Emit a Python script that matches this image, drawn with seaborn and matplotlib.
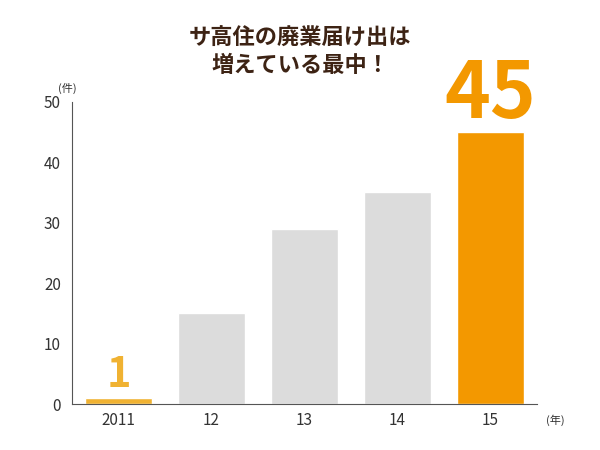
import matplotlib
matplotlib.use("Agg")
import matplotlib.pyplot as plt
import seaborn as sns
import pandas as pd

years = ["2011", "12", "13", "14", "15"]
counts = [1, 15, 29, 35, 45]
colors = ["#F0B232", "#DCDCDC", "#DCDCDC", "#DCDCDC", "#F39800"]

sns.set_style("white")
plt.rcParams['font.family'] = ['Noto Sans CJK JP', 'DejaVu Sans']

fig = plt.figure(figsize=(6, 4.5), dpi=100)
ax = fig.add_axes([0.12, 0.102, 0.775, 0.672])
df = pd.DataFrame({"year": years, "count": counts})
sns.barplot(data=df, x="year", y="count", hue="year", palette=colors, legend=False,
            width=0.71, ax=ax, saturation=1)
ax.set_ylim(0, 50)
ax.set_xlim(-0.5, 4.5)
ax.set_yticks(range(0, 51, 10))
ax.set_xlabel("")
ax.set_ylabel("")
for s in ["top", "right"]:
    ax.spines[s].set_visible(False)
for s in ["left", "bottom"]:
    ax.spines[s].set_color("#555555")
    ax.spines[s].set_linewidth(0.8)
ax.tick_params(axis="both", labelsize=11, colors="#333333", length=0, pad=6)
ax.tick_params(axis="y", length=4, direction="out", pad=4)

ax.text(0, counts[0] + 0.3, "1", ha="center", va="bottom", fontsize=30,
        fontweight="bold", color="#F0B232")
ax.text(4, counts[4] - 0.5, "45", ha="center", va="bottom", fontsize=56,
        fontweight="bold", color="#F39800")

fig.text(0.112, 0.795, "(件)", fontsize=8, color="#333333", ha="center")
fig.text(0.925, 0.058, "(年)", fontsize=8, color="#333333", ha="center")
fig.text(0.5, 0.83, "サ高住の廃業届け出は\n増えている最中！", ha="center", va="bottom",
         fontsize=16, fontweight="bold", color="#3D2314", linespacing=1.2)

fig.savefig("out.png")
